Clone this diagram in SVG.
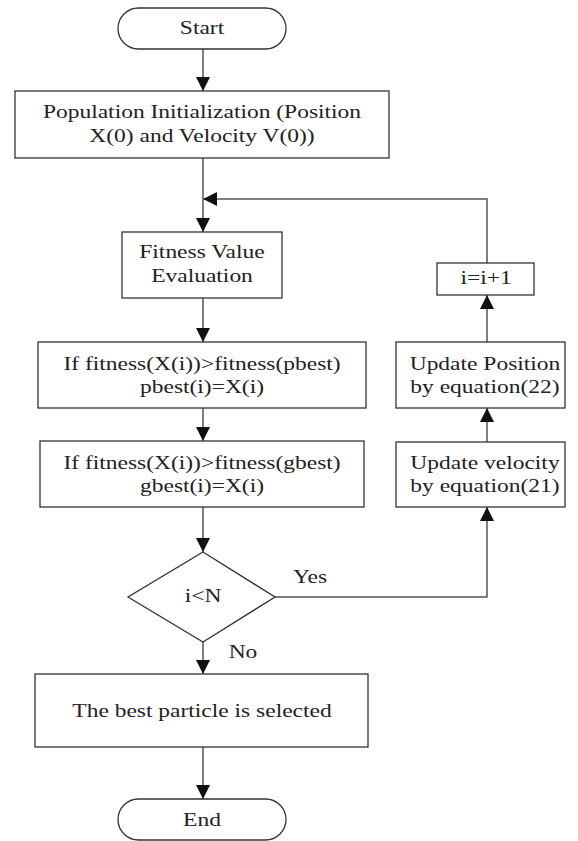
<svg xmlns="http://www.w3.org/2000/svg" width="578" height="841" viewBox="0 0 578 841">
<style>
.box{fill:#fff;stroke:#333;stroke-width:1.3}
.ln{fill:none;stroke:#555;stroke-width:1.5}
text{font-family:"Liberation Serif","Times New Roman","DejaVu Serif",serif;font-size:18.5px;fill:#222;text-anchor:middle}
</style>
<defs>
<marker id="ah" markerWidth="14" markerHeight="14" viewBox="0 0 14 14" refX="14" refY="7" orient="auto" markerUnits="userSpaceOnUse">
<path d="M0,0 L14,7 L0,14 Z" fill="#111"/>
</marker>
</defs>
<rect width="578" height="841" fill="#fff"/>
<g id="connectors">
<line class="ln" x1="203" y1="49" x2="203" y2="91" marker-end="url(#ah)"/>
<line class="ln" x1="203" y1="158" x2="203" y2="232" marker-end="url(#ah)"/>
<line class="ln" x1="203" y1="298" x2="203" y2="342" marker-end="url(#ah)"/>
<line class="ln" x1="203" y1="408" x2="203" y2="441" marker-end="url(#ah)"/>
<line class="ln" x1="203" y1="507" x2="203" y2="552" marker-end="url(#ah)"/>
<line class="ln" x1="203" y1="642" x2="203" y2="674" marker-end="url(#ah)"/>
<line class="ln" x1="203" y1="747" x2="203" y2="799" marker-end="url(#ah)"/>
<polyline class="ln" points="275,597 487,597 487,507" marker-end="url(#ah)"/>
<line class="ln" x1="487" y1="442" x2="487" y2="408" marker-end="url(#ah)"/>
<line class="ln" x1="487" y1="342" x2="487" y2="295" marker-end="url(#ah)"/>
<polyline class="ln" points="487,263 487,199 203,199" marker-end="url(#ah)"/>
<text transform="translate(310,583) scale(1.27,1)">Yes</text>
<text transform="translate(243,658) scale(1.27,1)">No</text>
</g>
<g id="start">
<rect class="box" x="118" y="8" width="168" height="41" rx="20.5"/>
<text transform="translate(202,34) scale(1.27,1)">Start</text>
</g>
<g id="init">
<rect class="box" x="15" y="91" width="374" height="67"/>
<text transform="translate(202,118) scale(1.27,1)">Population Initialization (Position</text>
<text transform="translate(202,142) scale(1.27,1)">X(0) and Velocity V(0))</text>
</g>
<g id="fitness">
<rect class="box" x="122" y="232" width="160" height="66"/>
<text transform="translate(202,258) scale(1.27,1)">Fitness Value</text>
<text transform="translate(202,282) scale(1.27,1)">Evaluation</text>
</g>
<g id="pbest">
<rect class="box" x="38" y="342" width="328" height="66"/>
<text transform="translate(202,370) scale(1.27,1)">If fitness(X(i))&gt;fitness(pbest)</text>
<text transform="translate(202,393) scale(1.27,1)">pbest(i)=X(i)</text>
</g>
<g id="gbest">
<rect class="box" x="40" y="441" width="324" height="66"/>
<text transform="translate(202,469) scale(1.27,1)">If fitness(X(i))&gt;fitness(gbest)</text>
<text transform="translate(202,492) scale(1.27,1)">gbest(i)=X(i)</text>
</g>
<g id="decision">
<polygon class="box" points="203,552 275,597 203,642 128,597"/>
<text transform="translate(203,602) scale(1.27,1)">i&lt;N</text>
</g>
<g id="best">
<rect class="box" x="35" y="674" width="333" height="73"/>
<text transform="translate(202,717) scale(1.27,1)">The best particle is selected</text>
</g>
<g id="end">
<rect class="box" x="118" y="799" width="168" height="41" rx="20.5"/>
<text transform="translate(202,826) scale(1.27,1)">End</text>
</g>
<g id="inc">
<rect class="box" x="437" y="263" width="97" height="32"/>
<text transform="translate(486,284) scale(1.27,1)">i=i+1</text>
</g>
<g id="updpos">
<rect class="box" x="396" y="342" width="169" height="66"/>
<text transform="translate(485,370) scale(1.27,1)">Update Position</text>
<text transform="translate(485,393) scale(1.27,1)">by equation(22)</text>
</g>
<g id="updvel">
<rect class="box" x="396" y="442" width="169" height="65"/>
<text transform="translate(485,469) scale(1.27,1)">Update velocity</text>
<text transform="translate(485,492) scale(1.27,1)">by equation(21)</text>
</g>
</svg>
